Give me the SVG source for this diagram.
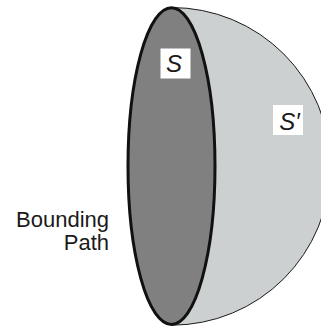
<svg xmlns="http://www.w3.org/2000/svg" width="321" height="329" viewBox="0 0 321 329">
<style>
text{font-family:"Liberation Sans",Arial,sans-serif;fill:#1a1a1a}
.lab{font-size:24px;font-style:italic;text-anchor:middle}
.cap{font-size:22px;text-anchor:end}
.box{fill:#fff}
</style>
<g id="dome"><path d="M171.500 7.500A158.800 158.800 0 0 1 171.500 325.200Z" fill="#ccd0d0" stroke="#1a1a1a" stroke-width="1"/></g>
<g id="disc"><ellipse cx="171.500" cy="166.100" rx="43.500" ry="158.400" fill="#808080" stroke="#111" stroke-width="3"/></g>
<g id="label-s"><rect class="box" x="160.500" y="48.500" width="30" height="30"/><text class="lab" x="174" y="72">S</text></g>
<g id="label-s-prime"><rect class="box" x="273" y="105" width="30" height="30"/><text class="lab" x="289.500" y="130">S′</text></g>
<g id="caption"><text class="cap" x="109" y="227.300">Bounding</text><text class="cap" x="109" y="250">Path</text></g>
</svg>
